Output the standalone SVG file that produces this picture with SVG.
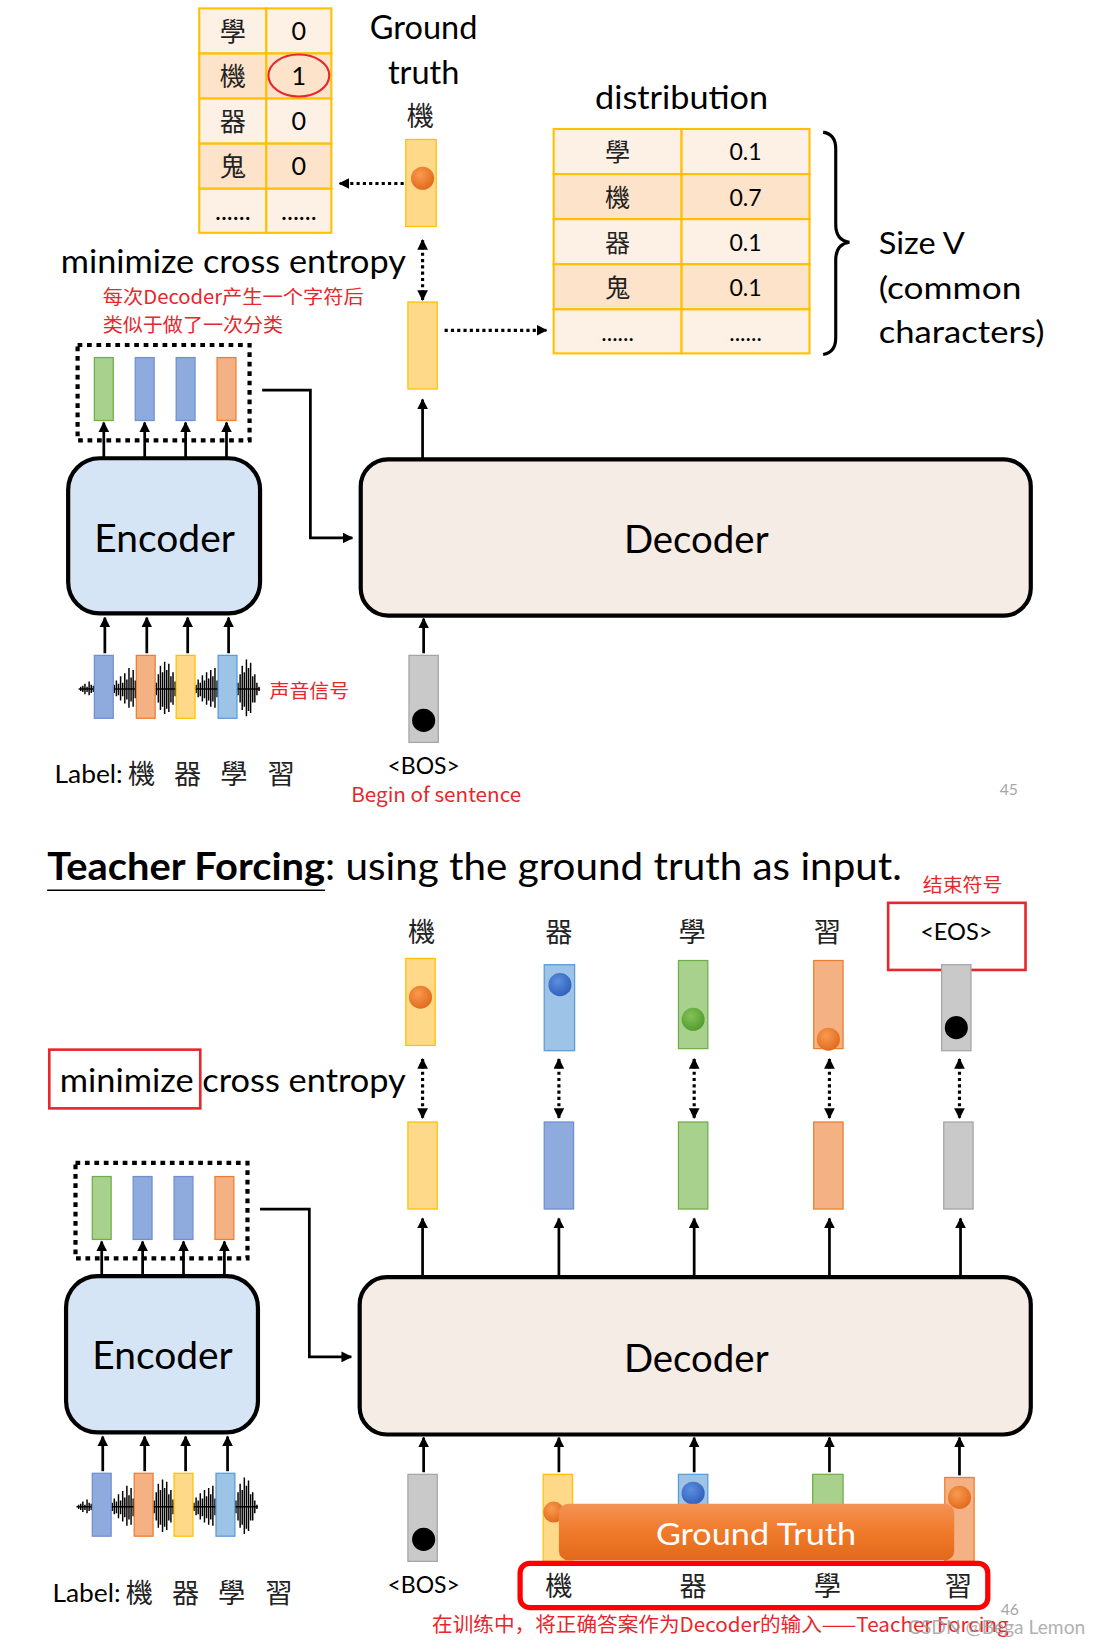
<svg xmlns="http://www.w3.org/2000/svg" xmlns:xlink="http://www.w3.org/1999/xlink" width="1101" height="1644" viewBox="0 0 1101 1644">
<style>
.t{font-family:Lato,"Liberation Sans","Noto Sans CJK TC",sans-serif;fill:#000}
.c{font-family:"Noto Sans CJK TC","Noto Sans CJK SC",sans-serif;fill:#222}
.r{font-family:"Noto Sans CJK SC","Liberation Sans",sans-serif;fill:#e8262b}
.g{font-family:Lato,"Liberation Sans",sans-serif;fill:#a6a6a6}
.cell{stroke:#ffc000;stroke-width:2}
.l1{fill:#fdf1e6}.l2{fill:#fce3c9}
.box{stroke:#000;stroke-width:4}
.enc{fill:#d5e5f5}.dec{fill:#f6ece6}
.ar{stroke:#000;stroke-width:2.6;fill:none}
.dt{stroke:#000;stroke-width:3;fill:none;stroke-dasharray:3 3}
.db{stroke:#000;stroke-width:4;fill:none;stroke-dasharray:4.5 4.5}
.yl{fill:#ffd98a;stroke:#ffc000;stroke-width:1.2}
.bl{fill:#8faadc;stroke:#6f8fd0;stroke-width:1.2}
.lb{fill:#9dc3e6;stroke:#5b9bd5;stroke-width:1.2}
.gr{fill:#a9d18e;stroke:#70ad47;stroke-width:1.2}
.or{fill:#f4b183;stroke:#ed7d31;stroke-width:1.2}
.gy{fill:#c9c9c9;stroke:#a5a5a5;stroke-width:1.2}
.rb{fill:none;stroke:#e8262b;stroke-width:2.5}
</style>
<defs>
<marker id="ah" viewBox="0 0 10 10" refX="9" refY="5" markerWidth="4" markerHeight="4" orient="auto-start-reverse">
<path d="M0,0 L10,5 L0,10 z" fill="#000"/>
</marker>
<marker id="ad" viewBox="0 0 10 10" refX="9" refY="5" markerWidth="3.4" markerHeight="3.4" orient="auto-start-reverse">
<path d="M0,0 L10,5 L0,10 z" fill="#000"/>
</marker>
<radialGradient id="dO" cx="0.4" cy="0.35" r="0.7"><stop offset="0" stop-color="#f99a4f"/><stop offset="1" stop-color="#e0681a"/></radialGradient>
<radialGradient id="dB" cx="0.4" cy="0.35" r="0.7"><stop offset="0" stop-color="#5b8ee0"/><stop offset="1" stop-color="#2f5fb8"/></radialGradient>
<radialGradient id="dG" cx="0.4" cy="0.35" r="0.7"><stop offset="0" stop-color="#84c25a"/><stop offset="1" stop-color="#4f9a2c"/></radialGradient>
<linearGradient id="gt" x1="0" y1="0" x2="0" y2="1"><stop offset="0" stop-color="#f49255"/><stop offset="0.5" stop-color="#f07a2a"/><stop offset="1" stop-color="#e2691c"/></linearGradient>
<g id="wave">
<path d="M75,0 H248" stroke="#000" stroke-width="1.5"/>
<path stroke="#000" stroke-width="1.4" d="M77,-2V2 M79,-3V3 M81,-5V5 M83,-2V3 M85,-7V6 M87,-4V4 M89,-3V3 M109,-4V4 M111,-8V7 M113,-5V6 M115,-12V11 M117,-6V7 M119,-15V14 M121,-9V10 M123,-20V18 M125,-11V12 M127,-18V17 M129,-8V9 M149,-6V6 M151,-14V13 M153,-22V20 M155,-16V17 M157,-26V24 M159,-18V19 M161,-24V22 M163,-12V13 M165,-16V15 M167,-7V7 M187,-4V4 M189,-9V8 M191,-6V7 M193,-13V12 M195,-8V9 M197,-16V15 M199,-10V11 M201,-18V17 M203,-12V12 M205,-20V18 M207,-8V8 M227,-6V6 M229,-14V13 M231,-22V20 M233,-16V17 M235,-28V26 M237,-20V21 M239,-25V23 M241,-12V13 M243,-14V13 M245,-6V6 M247,-2V2"/>
</g>
</defs>
<g transform="scale(1.0486)">
<rect x="0" y="0" width="1050" height="1568" fill="#fff"/>

<!-- ===== Slide 45 ===== -->
<g id="onehot">
<rect class="cell l1" x="190" y="8" width="64" height="43"/><rect class="cell l1" x="254" y="8" width="62" height="43"/>
<rect class="cell l2" x="190" y="51" width="64" height="43"/><rect class="cell l2" x="254" y="51" width="62" height="43"/>
<rect class="cell l1" x="190" y="94" width="64" height="43"/><rect class="cell l1" x="254" y="94" width="62" height="43"/>
<rect class="cell l2" x="190" y="137" width="64" height="43"/><rect class="cell l2" x="254" y="137" width="62" height="43"/>
<rect class="cell l1" x="190" y="180" width="64" height="42"/><rect class="cell l1" x="254" y="180" width="62" height="42"/>
<g class="c" font-size="25" text-anchor="middle">
<text x="222" y="39">學</text><text x="222" y="82">機</text><text x="222" y="125">器</text><text x="222" y="168">鬼</text>
</g>
<g class="t" font-size="24" text-anchor="middle">
<text x="285" y="38">0</text><text x="285" y="81">1</text><text x="285" y="124">0</text><text x="285" y="167">0</text>
<text x="222" y="210">......</text><text x="285" y="210">......</text>
</g>
<ellipse cx="285" cy="72" rx="29" ry="20" fill="none" stroke="#e8262b" stroke-width="2"/>
</g>

<g id="gt-label">
<text class="t" font-size="31" text-anchor="middle" x="404" y="37">Ground</text>
<text class="t" font-size="31" text-anchor="middle" x="404" y="80">truth</text>
<text class="c" font-size="26" text-anchor="middle" x="401" y="120">機</text>
</g>

<g id="gt-vec">
<rect class="yl" x="387" y="133" width="29" height="83"/>
<circle cx="403" cy="170" r="11" fill="url(#dO)"/>
</g>

<g id="out-vec">
<rect class="yl" x="389" y="288" width="28" height="83"/>
</g>

<g id="ce-label">
<text class="t" font-size="31" x="58" y="260" textLength="329" lengthAdjust="spacingAndGlyphs">minimize cross entropy</text>
<text class="r" font-size="18" x="98" y="290" textLength="249" lengthAdjust="spacingAndGlyphs">每次Decoder产生一个字符后</text>
<text class="r" font-size="18" x="98" y="317" textLength="172" lengthAdjust="spacingAndGlyphs">类似于做了一次分类</text>
</g>

<g id="dist">
<text class="t" font-size="31" text-anchor="middle" x="650" y="104" textLength="165" lengthAdjust="spacingAndGlyphs">distribution</text>
<rect class="cell l1" x="528" y="123" width="122" height="43"/><rect class="cell l1" x="650" y="123" width="122" height="43"/>
<rect class="cell l2" x="528" y="166" width="122" height="43"/><rect class="cell l2" x="650" y="166" width="122" height="43"/>
<rect class="cell l1" x="528" y="209" width="122" height="43"/><rect class="cell l1" x="650" y="209" width="122" height="43"/>
<rect class="cell l2" x="528" y="252" width="122" height="43"/><rect class="cell l2" x="650" y="252" width="122" height="43"/>
<rect class="cell l1" x="528" y="295" width="122" height="42"/><rect class="cell l1" x="650" y="295" width="122" height="42"/>
<g class="c" font-size="24" text-anchor="middle">
<text x="589" y="154">學</text><text x="589" y="197">機</text><text x="589" y="240">器</text><text x="589" y="283">鬼</text>
</g>
<g class="t" font-size="22" text-anchor="middle">
<text x="711" y="153">0.1</text><text x="711" y="196">0.7</text><text x="711" y="239">0.1</text><text x="711" y="282">0.1</text>
<text x="589" y="325">......</text><text x="711" y="325">......</text>
</g>
<path d="M785,126 Q797,128 797,142 V214 Q797,229 810,231 Q797,233 797,248 V322 Q797,336 785,338" fill="none" stroke="#000" stroke-width="3"/>
<text class="t" font-size="30" x="838" y="242" textLength="82" lengthAdjust="spacingAndGlyphs">Size V</text>
<text class="t" font-size="30" x="838" y="285" textLength="136" lengthAdjust="spacingAndGlyphs">(common</text>
<text class="t" font-size="30" x="838" y="327" textLength="158" lengthAdjust="spacingAndGlyphs">characters)</text>
</g>

<g id="enc-out-1">
<rect class="db" x="74" y="329" width="164" height="91"/>
<rect class="gr" x="90" y="341" width="18" height="60"/>
<rect class="bl" x="129" y="341" width="18" height="60"/>
<rect class="bl" x="168" y="341" width="18" height="60"/>
<rect class="or" x="207" y="341" width="18" height="60"/>
</g>

<g id="encoder-1">
<rect class="box enc" x="65" y="437" width="183" height="148" rx="30"/>
<text class="t" font-size="36" text-anchor="middle" x="157" y="526" textLength="134" lengthAdjust="spacingAndGlyphs">Encoder</text>
</g>

<g id="decoder-1">
<rect class="box dec" x="344" y="438" width="639" height="149" rx="26"/>
<text class="t" font-size="36" text-anchor="middle" x="664" y="527" textLength="138" lengthAdjust="spacingAndGlyphs">Decoder</text>
</g>

<g id="audio-1">
<use xlink:href="#wave" href="#wave" y="657"/>
<rect class="bl" x="90" y="625" width="18" height="60"/>
<rect class="or" x="130" y="625" width="18" height="60"/>
<rect class="yl" x="168" y="625" width="18" height="60"/>
<rect class="lb" x="208" y="625" width="18" height="60"/>
<text class="r" font-size="18" x="257" y="666" textLength="76" lengthAdjust="spacingAndGlyphs">声音信号</text>
</g>

<g id="bos-1">
<rect class="gy" x="390" y="625" width="28" height="83"/>
<circle cx="404" cy="687" r="11" fill="#000"/>
<text class="t" font-size="22" text-anchor="middle" x="404" y="738" textLength="69" lengthAdjust="spacingAndGlyphs">&lt;BOS&gt;</text>
<text class="r" font-size="19" x="335" y="765" textLength="162" lengthAdjust="spacingAndGlyphs">Begin of sentence</text>
</g>

<g id="label-1">
<text class="t" font-size="24" x="52" y="747" textLength="65" lengthAdjust="spacingAndGlyphs">Label:</text>
<g class="c" font-size="26" text-anchor="middle"><text x="135" y="748">機</text><text x="179" y="748">器</text><text x="223" y="748">學</text><text x="268" y="748">習</text></g>
</g>
<text class="g" font-size="15" text-anchor="middle" x="962" y="758">45</text>

<g id="connectors-1">
<line class="dt" x1="385" y1="175" x2="324" y2="175" marker-end="url(#ad)"/>
<line class="dt" x1="403" y1="229" x2="403" y2="286" marker-start="url(#ad)" marker-end="url(#ad)"/>
<line class="dt" x1="424" y1="315" x2="521" y2="315" marker-end="url(#ad)"/>
<line class="ar" x1="403" y1="438" x2="403" y2="381" marker-end="url(#ah)"/>
<line class="ar" x1="99" y1="437" x2="99" y2="403" marker-end="url(#ah)"/>
<line class="ar" x1="138" y1="437" x2="138" y2="403" marker-end="url(#ah)"/>
<line class="ar" x1="177" y1="437" x2="177" y2="403" marker-end="url(#ah)"/>
<line class="ar" x1="216" y1="437" x2="216" y2="403" marker-end="url(#ah)"/>
<polyline class="ar" points="250,372 296,372 296,513 336,513" marker-end="url(#ah)"/>
<line class="ar" x1="100" y1="623" x2="100" y2="589" marker-end="url(#ah)"/>
<line class="ar" x1="140" y1="623" x2="140" y2="589" marker-end="url(#ah)"/>
<line class="ar" x1="179" y1="623" x2="179" y2="589" marker-end="url(#ah)"/>
<line class="ar" x1="218" y1="623" x2="218" y2="589" marker-end="url(#ah)"/>
<line class="ar" x1="404" y1="623" x2="404" y2="590" marker-end="url(#ah)"/>
</g>

<!-- ===== Slide 46 ===== -->
<g id="title-2">
<text class="t" font-size="36" font-weight="bold" x="45" y="839" textLength="265" lengthAdjust="spacingAndGlyphs">Teacher Forcing</text>
<text class="t" font-size="36" x="310" y="839" textLength="550" lengthAdjust="spacingAndGlyphs">: using the ground truth as input.</text>
<line x1="45" y1="849" x2="310" y2="849" stroke="#000" stroke-width="1.5"/>
</g>

<g id="eos-note">
<text class="r" font-size="18" x="880" y="851" textLength="76" lengthAdjust="spacingAndGlyphs">结束符号</text>
<rect class="rb" x="847" y="861" width="131" height="64"/>
</g>

<g id="targets-2">
<g class="c" font-size="26" text-anchor="middle"><text x="402" y="898">機</text><text x="533" y="898">器</text><text x="660" y="898">學</text><text x="789" y="898">習</text></g>
<text class="t" font-size="22" text-anchor="middle" x="912" y="896" textLength="69" lengthAdjust="spacingAndGlyphs">&lt;EOS&gt;</text>
<rect class="yl" x="387" y="914" width="28" height="83"/><circle cx="401" cy="951" r="11" fill="url(#dO)"/>
<rect class="lb" x="519" y="920" width="29" height="82"/><circle cx="534" cy="939" r="11" fill="url(#dB)"/>
<rect class="gr" x="647" y="916" width="28" height="84"/><circle cx="661" cy="972" r="11" fill="url(#dG)"/>
<rect class="or" x="776" y="916" width="28" height="84"/><circle cx="790" cy="991" r="11" fill="url(#dO)"/>
<rect class="gy" x="898" y="920" width="28" height="82"/><circle cx="912" cy="980" r="11" fill="#000"/>
</g>

<g id="ce-label-2">
<rect class="rb" x="47" y="1001" width="144" height="56"/>
<text class="t" font-size="31" x="57" y="1041" textLength="330" lengthAdjust="spacingAndGlyphs">minimize cross entropy</text>
</g>

<g id="outputs-2">
<rect class="yl" x="389" y="1070" width="28" height="83"/>
<rect class="bl" x="519" y="1070" width="28" height="83"/>
<rect class="gr" x="647" y="1070" width="28" height="83"/>
<rect class="or" x="776" y="1070" width="28" height="83"/>
<rect class="gy" x="900" y="1070" width="28" height="83"/>
</g>

<g id="enc-out-2">
<rect class="db" x="72" y="1109" width="164" height="91"/>
<rect class="gr" x="88" y="1122" width="18" height="60"/>
<rect class="bl" x="127" y="1122" width="18" height="60"/>
<rect class="bl" x="166" y="1122" width="18" height="60"/>
<rect class="or" x="205" y="1122" width="18" height="60"/>
</g>

<g id="encoder-2">
<rect class="box enc" x="63" y="1217" width="183" height="149" rx="30"/>
<text class="t" font-size="36" text-anchor="middle" x="155" y="1306" textLength="134" lengthAdjust="spacingAndGlyphs">Encoder</text>
</g>

<g id="decoder-2">
<rect class="box dec" x="343" y="1218" width="640" height="150" rx="26"/>
<text class="t" font-size="36" text-anchor="middle" x="664" y="1308" textLength="138" lengthAdjust="spacingAndGlyphs">Decoder</text>
</g>

<g id="audio-2">
<use xlink:href="#wave" href="#wave" x="-2" y="1437"/>
<rect class="bl" x="88" y="1405" width="18" height="60"/>
<rect class="or" x="128" y="1405" width="18" height="60"/>
<rect class="yl" x="166" y="1405" width="18" height="60"/>
<rect class="lb" x="206" y="1405" width="18" height="60"/>
</g>

<g id="label-2">
<text class="t" font-size="24" x="50" y="1528" textLength="65" lengthAdjust="spacingAndGlyphs">Label:</text>
<g class="c" font-size="26" text-anchor="middle"><text x="133" y="1529">機</text><text x="177" y="1529">器</text><text x="221" y="1529">學</text><text x="266" y="1529">習</text></g>
</g>

<g id="inputs-2">
<rect class="gy" x="389" y="1406" width="28" height="83"/><circle cx="404" cy="1468" r="11" fill="#000"/>
<text class="t" font-size="22" text-anchor="middle" x="404" y="1519" textLength="69" lengthAdjust="spacingAndGlyphs">&lt;BOS&gt;</text>
<rect class="yl" x="518" y="1406" width="28" height="83"/><circle cx="528" cy="1442" r="10" fill="url(#dO)"/>
<rect class="lb" x="647" y="1406" width="28" height="34"/><circle cx="661" cy="1424" r="11" fill="url(#dB)"/>
<rect class="gr" x="775" y="1406" width="29" height="34"/>
<rect class="or" x="901" y="1409" width="28" height="80"/><circle cx="915" cy="1428" r="11" fill="url(#dO)"/>
</g>

<g id="ground-truth">
<rect x="533" y="1434" width="377" height="54" rx="9" fill="url(#gt)"/>
<text font-family="Lato,'Liberation Sans',sans-serif" font-size="30" fill="#fff" text-anchor="middle" x="721" y="1473" textLength="191" lengthAdjust="spacingAndGlyphs">Ground Truth</text>
</g>

<g id="gt-seq">
<rect x="496" y="1491" width="446" height="42" rx="9" fill="#fff" stroke="#ff0000" stroke-width="5"/>
<g class="c" font-size="26" text-anchor="middle"><text x="533" y="1522">機</text><text x="661" y="1522">器</text><text x="789" y="1522">學</text><text x="914" y="1522">習</text></g>
</g>

<g id="notes-2">
<text class="g" font-size="15" text-anchor="middle" x="963" y="1540">46</text>
<text class="r" font-size="19" x="412" y="1556" textLength="550" lengthAdjust="spacingAndGlyphs">在训练中，将正确答案作为Decoder的输入——Teacher Forcing</text>
<text font-family="Lato,'Liberation Sans',sans-serif" font-size="19" fill="#9a9a9a" fill-opacity="0.8" x="866" y="1558" textLength="169" lengthAdjust="spacingAndGlyphs">CSDN @Bega Lemon</text>
</g>

<g id="connectors-2">
<line class="dt" x1="403" y1="1010" x2="403" y2="1066" marker-start="url(#ad)" marker-end="url(#ad)"/>
<line class="dt" x1="533" y1="1010" x2="533" y2="1066" marker-start="url(#ad)" marker-end="url(#ad)"/>
<line class="dt" x1="662" y1="1010" x2="662" y2="1066" marker-start="url(#ad)" marker-end="url(#ad)"/>
<line class="dt" x1="791" y1="1010" x2="791" y2="1066" marker-start="url(#ad)" marker-end="url(#ad)"/>
<line class="dt" x1="915" y1="1010" x2="915" y2="1066" marker-start="url(#ad)" marker-end="url(#ad)"/>
<line class="ar" x1="403" y1="1218" x2="403" y2="1162" marker-end="url(#ah)"/>
<line class="ar" x1="533" y1="1218" x2="533" y2="1162" marker-end="url(#ah)"/>
<line class="ar" x1="662" y1="1218" x2="662" y2="1162" marker-end="url(#ah)"/>
<line class="ar" x1="791" y1="1218" x2="791" y2="1162" marker-end="url(#ah)"/>
<line class="ar" x1="916" y1="1218" x2="916" y2="1162" marker-end="url(#ah)"/>
<line class="ar" x1="97" y1="1217" x2="97" y2="1184" marker-end="url(#ah)"/>
<line class="ar" x1="136" y1="1217" x2="136" y2="1184" marker-end="url(#ah)"/>
<line class="ar" x1="175" y1="1217" x2="175" y2="1184" marker-end="url(#ah)"/>
<line class="ar" x1="214" y1="1217" x2="214" y2="1184" marker-end="url(#ah)"/>
<polyline class="ar" points="248,1153 295,1153 295,1294 335,1294" marker-end="url(#ah)"/>
<line class="ar" x1="98" y1="1403" x2="98" y2="1370" marker-end="url(#ah)"/>
<line class="ar" x1="138" y1="1403" x2="138" y2="1370" marker-end="url(#ah)"/>
<line class="ar" x1="177" y1="1403" x2="177" y2="1370" marker-end="url(#ah)"/>
<line class="ar" x1="217" y1="1403" x2="217" y2="1370" marker-end="url(#ah)"/>
<line class="ar" x1="404" y1="1404" x2="404" y2="1371" marker-end="url(#ah)"/>
<line class="ar" x1="533" y1="1404" x2="533" y2="1371" marker-end="url(#ah)"/>
<line class="ar" x1="662" y1="1404" x2="662" y2="1371" marker-end="url(#ah)"/>
<line class="ar" x1="791" y1="1404" x2="791" y2="1371" marker-end="url(#ah)"/>
<line class="ar" x1="915" y1="1407" x2="915" y2="1371" marker-end="url(#ah)"/>
</g>
</g>
</svg>
